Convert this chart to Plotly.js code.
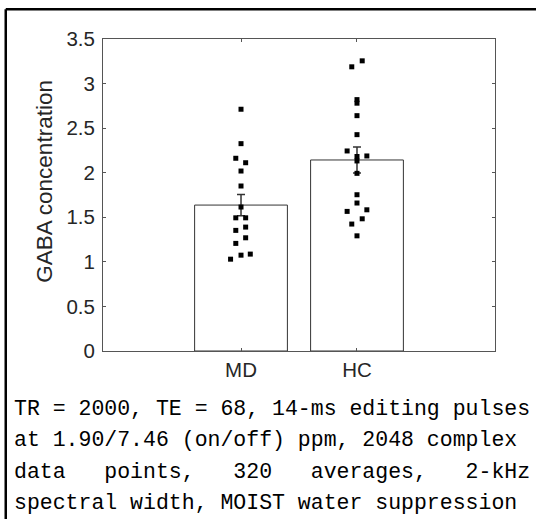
<!DOCTYPE html>
<html>
<head>
<meta charset="utf-8">
<script src="https://cdn.plot.ly/plotly-3.0.1.min.js"></script>
<style>html,body{margin:0;padding:0;background:#fff;}#chart{width:536px;height:519px;}</style>
</head>
<body>
<div id="chart"></div>
<script>
// ---- data ----
var groups = ["MD", "HC"];
var groupPos = [1, 2];
var meanValues = [1.637, 2.143];
var semValues = [0.12, 0.145];

var mdValues = [2.712, 2.326, 2.162, 2.112, 2.019, 1.851, 1.615, 1.494, 1.494, 1.390, 1.353, 1.270, 1.207, 1.075, 1.087, 1.030];
var mdJitter = [0, 0, -0.045, 0.04, 0, 0, 0, -0.045, 0.04, 0.04, -0.045, 0.04, -0.045, 0, 0.08, -0.09];

var hcValues = [3.255, 3.188, 2.82, 2.78, 2.64, 2.427, 2.244, 2.188, 2.182, 2.132, 1.993, 1.753, 1.660, 1.566, 1.584, 1.483, 1.424, 1.292];
var hcJitter = [0.045, -0.045, 0, 0, 0, 0, -0.085, 0.085, 0, 0, 0, 0, 0, -0.085, 0.085, 0.045, -0.045, 0];

var yTicks = [0, 0.5, 1, 1.5, 2, 2.5, 3, 3.5];
var yTickText = ["0", "0.5", "1", "1.5", "2", "2.5", "3", "3.5"];

var yTitle = "GABA concentration";

var captionLines = [
  "TR = 2000, TE = 68, 14-ms editing pulses",
  "at 1.90/7.46 (on/off) ppm, 2048 complex",
  "data   points,   320   averages,   2-kHz",
  "spectral width, MOIST water suppression"
];

// ---- build ----
function jittered(base, jit) { return jit.map(function (j) { return base + j; }); }

var traces = [
  {
    type: "bar",
    x: groupPos,
    y: meanValues,
    width: 0.8,
    marker: { color: "#ffffff", line: { color: "#333333", width: 1 } },
    error_y: { type: "data", array: semValues, visible: true, color: "#333333", thickness: 1.5, width: 4 },
    hoverinfo: "skip",
    showlegend: false
  },
  {
    type: "scatter", mode: "markers",
    x: jittered(groupPos[0], mdJitter), y: mdValues,
    marker: { symbol: "square", size: 5, color: "#000000" },
    showlegend: false
  },
  {
    type: "scatter", mode: "markers",
    x: jittered(groupPos[1], hcJitter), y: hcValues,
    marker: { symbol: "square", size: 5, color: "#000000" },
    showlegend: false
  }
];

var W = 536, H = 519;
var L = 103.3, R = 495.5, T = 39.3, B = 350.7;
function px2x(px) { return (px - L) / (R - L); }
function py2y(py) { return (B - py) / (B - T); }

var captionY = [409, 440, 471, 502];
var annotations = captionLines.map(function (t, i) {
  return {
    xref: "paper", yref: "paper",
    x: px2x(12), y: py2y(captionY[i]),
    xanchor: "left", yanchor: "middle",
    text: t.replace(/ /g, "\u00a0"),
    showarrow: false,
    font: { family: "Liberation Mono, DejaVu Sans Mono, monospace", size: 21.5, color: "#000" }
  };
});
annotations.push({
  xref: "paper", yref: "paper",
  x: px2x(45), y: py2y(181),
  xanchor: "center", yanchor: "middle",
  textangle: -90,
  text: yTitle,
  showarrow: false,
  font: { family: "Liberation Sans, Arial, sans-serif", size: 22.5, color: "#262626" }
});

var layout = {
  width: W, height: H,
  margin: { l: L, r: W - R, t: T, b: H - B, pad: 0 },
  paper_bgcolor: "#ffffff",
  plot_bgcolor: "#ffffff",
  font: { family: "Liberation Sans, Arial, sans-serif", color: "#262626" },
  bargap: 0,
  xaxis: {
    range: [-0.19, 3.19],
    tickmode: "array", tickvals: groupPos, ticktext: groups,
    ticks: "inside", ticklen: 3, tickcolor: "#555", tickwidth: 1,
    showline: true, linecolor: "#555", linewidth: 1, mirror: "ticks",
    showgrid: false, zeroline: false,
    tickfont: { size: 20.5, color: "#262626" }
  },
  yaxis: {
    range: [0, 3.5],
    tickmode: "array", tickvals: yTicks, ticktext: yTickText,
    ticks: "inside", ticklen: 3, tickcolor: "#555", tickwidth: 1,
    showline: true, linecolor: "#555", linewidth: 1, mirror: "ticks",
    showgrid: false, zeroline: false,
    ticklabelstandoff: 3,
    tickfont: { size: 20.5, color: "#262626" }
  },
  shapes: [
    { type: "line", xref: "paper", yref: "paper", x0: px2x(6), x1: px2x(540), y0: py2y(9.5), y1: py2y(9.5), line: { color: "#000", width: 2.5 } },
    { type: "line", xref: "paper", yref: "paper", x0: px2x(6), x1: px2x(6), y0: py2y(9.5), y1: py2y(530), line: { color: "#000", width: 2.5 } }
  ],
  annotations: annotations
};

Plotly.newPlot("chart", traces, layout, { displayModeBar: false, staticPlot: true });
</script>
</body>
</html>
